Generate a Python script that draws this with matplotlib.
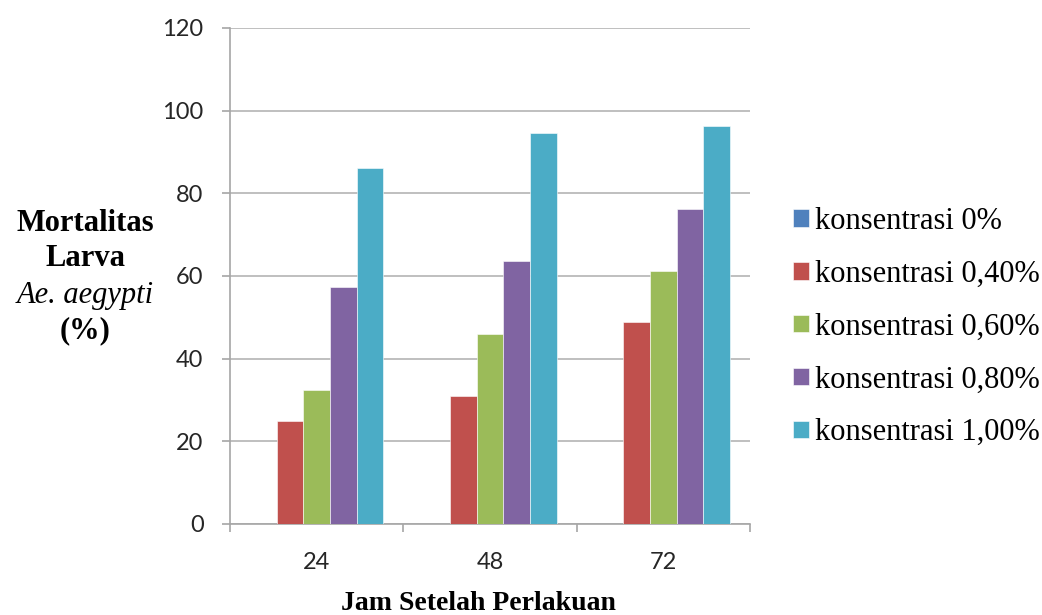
import numpy as np
import matplotlib.pyplot as plt

jam = ['24', '48', '72']
konsentrasi = ['konsentrasi 0%', 'konsentrasi 0,40%', 'konsentrasi 0,60%',
               'konsentrasi 0,80%', 'konsentrasi 1,00%']
mortalitas = [
    [0, 0, 0],
    [24.8, 31.0, 48.8],
    [32.4, 46.0, 61.3],
    [57.3, 63.6, 76.2],
    [86.2, 94.7, 96.2],
]
warna = ['#4F81BD', '#C0504D', '#9BBB59', '#8064A2', '#4BACC6']

fig = plt.figure(figsize=(10.42, 6.15), dpi=100)
ax = fig.add_axes([0.2207, 0.148, 0.499, 0.8065])

x = np.arange(len(jam))
w = 0.154
for i, (nama, nilai) in enumerate(zip(konsentrasi, mortalitas)):
    ax.bar(x + (i - 2) * w, nilai, width=w, color=warna[i], label=nama,
           edgecolor='white', linewidth=0.4, zorder=3)

ax.set_xlim(-0.5, 2.5)
ax.set_ylim(0, 120)
ax.set_yticks(range(0, 121, 20))
ax.set_xticks(x)
ax.set_xticklabels(jam)
ax.set_xticks([-0.5, 0.5, 1.5, 2.5], minor=True)
ax.tick_params(axis='x', which='major', length=0, pad=20)
ax.tick_params(axis='x', which='minor', length=6, color='#A6A6A6', width=1.2)
ax.tick_params(axis='y', length=6, color='#A6A6A6', width=1.2, pad=13)
for lbl in ax.get_xticklabels() + ax.get_yticklabels():
    lbl.set_fontfamily('Lato')
    lbl.set_fontsize(17)
    lbl.set_color('#262626')

ax.grid(axis='y', color='#BFBFBF', linewidth=1.4, zorder=0)
for s in ['top', 'right']:
    ax.spines[s].set_visible(False)
for s in ['left', 'bottom']:
    ax.spines[s].set_color('#A6A6A6')
    ax.spines[s].set_linewidth(1.2)

# judul sumbu x dan y
fig.text(0.459, 0.018, 'Jam Setelah Perlakuan', family='Liberation Serif',
         fontweight='bold', fontsize=20, ha='center', va='center')
fig.text(0.082, 0.637, 'Mortalitas', family='Liberation Serif',
         fontweight='bold', fontsize=22, ha='center', va='center')
fig.text(0.082, 0.579, 'Larva', family='Liberation Serif',
         fontweight='bold', fontsize=22, ha='center', va='center')
fig.text(0.082, 0.519, 'Ae. aegypti', family='Liberation Serif',
         style='italic', fontsize=22, ha='center', va='center')
fig.text(0.082, 0.462, '(%)', family='Liberation Serif',
         fontweight='bold', fontsize=22, ha='center', va='center')

leg = ax.legend(loc='center left', bbox_to_anchor=(1.083, 0.397), frameon=False,
                prop={'family': 'Liberation Serif', 'size': 22},
                handlelength=0.52, handleheight=0.5, handletextpad=0.2,
                labelspacing=0.78, borderpad=0, borderaxespad=0)

fig.savefig('out.png', dpi=100, facecolor='white')
